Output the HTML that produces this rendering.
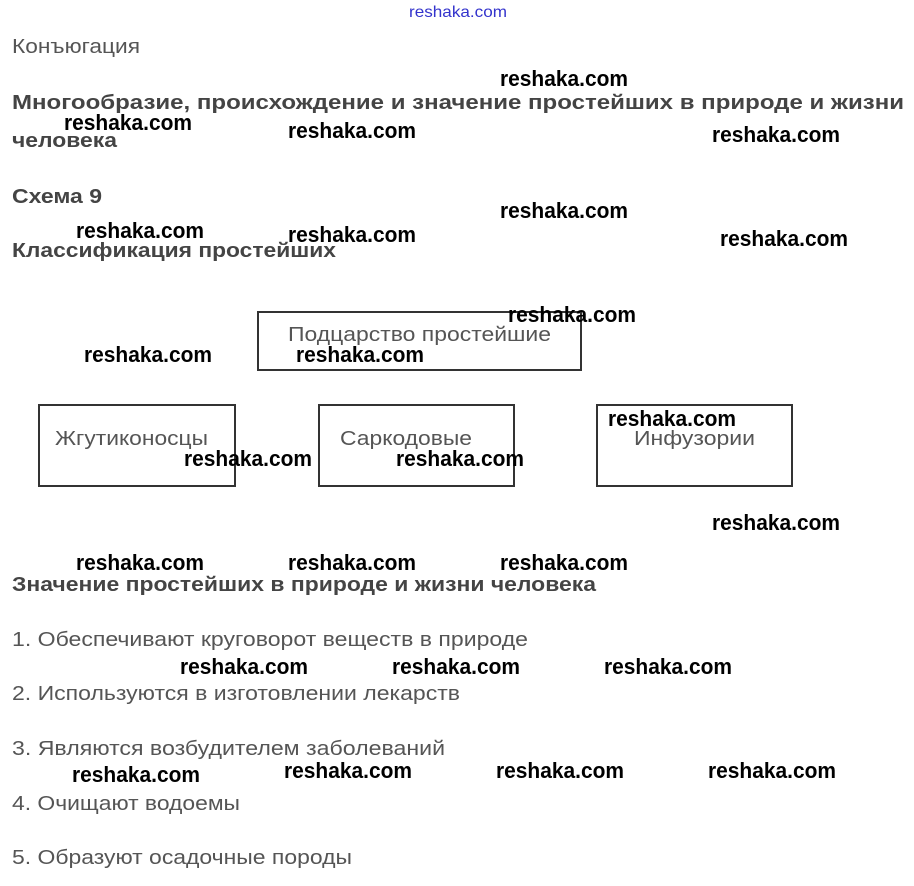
<!DOCTYPE html>
<html><head><meta charset="utf-8"><style>
html,body{margin:0;padding:0;background:#fff;width:914px;height:886px;overflow:hidden}
svg{display:block}
.t{font-family:"Liberation Sans",sans-serif;font-size:20px;fill:#555}
.h{font-family:"Liberation Sans",sans-serif;font-size:20px;font-weight:bold;fill:#444}
.w{font-family:"Liberation Sans",sans-serif;font-size:22px;font-weight:bold;fill:#000}
</style></head><body>
<svg width="914" height="886" viewBox="0 0 914 886" xmlns="http://www.w3.org/2000/svg">
<text x="409" y="17" font-family="Liberation Sans,sans-serif" font-size="16" fill="#3333cc" textLength="98" lengthAdjust="spacingAndGlyphs">reshaka.com</text>
<text class="t" x="12" y="53" textLength="128" lengthAdjust="spacingAndGlyphs">Конъюгация</text>
<text class="h" x="12" y="109" textLength="892" lengthAdjust="spacingAndGlyphs">Многообразие, происхождение и значение простейших в природе и жизни</text>
<text class="h" x="12" y="147" textLength="105" lengthAdjust="spacingAndGlyphs">человека</text>
<text class="h" x="12" y="203" textLength="90" lengthAdjust="spacingAndGlyphs">Схема 9</text>
<text class="h" x="12" y="257" textLength="324" lengthAdjust="spacingAndGlyphs">Классификация простейших</text>

<rect x="258" y="312" width="323" height="58" fill="none" stroke="#333" stroke-width="2"/>
<text class="t" x="288" y="341" textLength="263" lengthAdjust="spacingAndGlyphs">Подцарство простейшие</text>
<rect x="39" y="405" width="196" height="81" fill="none" stroke="#333" stroke-width="2"/>
<rect x="319" y="405" width="195" height="81" fill="none" stroke="#333" stroke-width="2"/>
<rect x="597" y="405" width="195" height="81" fill="none" stroke="#333" stroke-width="2"/>
<text class="t" x="55" y="445" textLength="153" lengthAdjust="spacingAndGlyphs">Жгутиконосцы</text>
<text class="t" x="340" y="445" textLength="132" lengthAdjust="spacingAndGlyphs">Саркодовые</text>
<text class="t" x="634" y="445" textLength="121" lengthAdjust="spacingAndGlyphs">Инфузории</text>

<text class="h" x="12" y="591" textLength="584" lengthAdjust="spacingAndGlyphs">Значение простейших в природе и жизни человека</text>
<text class="t" x="12" y="646" textLength="516" lengthAdjust="spacingAndGlyphs">1. Обеспечивают круговорот веществ в природе</text>
<text class="t" x="12" y="700" textLength="448" lengthAdjust="spacingAndGlyphs">2. Используются в изготовлении лекарств</text>
<text class="t" x="12" y="755" textLength="433" lengthAdjust="spacingAndGlyphs">3. Являются возбудителем заболеваний</text>
<text class="t" x="12" y="810" textLength="228" lengthAdjust="spacingAndGlyphs">4. Очищают водоемы</text>
<text class="t" x="12" y="864" textLength="340" lengthAdjust="spacingAndGlyphs">5. Образуют осадочные породы</text>

<g class="w">
<text class="w" x="500" y="86" textLength="128" lengthAdjust="spacingAndGlyphs">reshaka.com</text>
<text class="w" x="64" y="130" textLength="128" lengthAdjust="spacingAndGlyphs">reshaka.com</text>
<text class="w" x="288" y="138" textLength="128" lengthAdjust="spacingAndGlyphs">reshaka.com</text>
<text class="w" x="712" y="142" textLength="128" lengthAdjust="spacingAndGlyphs">reshaka.com</text>
<text class="w" x="500" y="218" textLength="128" lengthAdjust="spacingAndGlyphs">reshaka.com</text>
<text class="w" x="76" y="238" textLength="128" lengthAdjust="spacingAndGlyphs">reshaka.com</text>
<text class="w" x="288" y="242" textLength="128" lengthAdjust="spacingAndGlyphs">reshaka.com</text>
<text class="w" x="720" y="246" textLength="128" lengthAdjust="spacingAndGlyphs">reshaka.com</text>
<text class="w" x="508" y="322" textLength="128" lengthAdjust="spacingAndGlyphs">reshaka.com</text>
<text class="w" x="84" y="362" textLength="128" lengthAdjust="spacingAndGlyphs">reshaka.com</text>
<text class="w" x="296" y="362" textLength="128" lengthAdjust="spacingAndGlyphs">reshaka.com</text>
<text class="w" x="608" y="426" textLength="128" lengthAdjust="spacingAndGlyphs">reshaka.com</text>
<text class="w" x="184" y="466" textLength="128" lengthAdjust="spacingAndGlyphs">reshaka.com</text>
<text class="w" x="396" y="466" textLength="128" lengthAdjust="spacingAndGlyphs">reshaka.com</text>
<text class="w" x="712" y="530" textLength="128" lengthAdjust="spacingAndGlyphs">reshaka.com</text>
<text class="w" x="76" y="570" textLength="128" lengthAdjust="spacingAndGlyphs">reshaka.com</text>
<text class="w" x="288" y="570" textLength="128" lengthAdjust="spacingAndGlyphs">reshaka.com</text>
<text class="w" x="500" y="570" textLength="128" lengthAdjust="spacingAndGlyphs">reshaka.com</text>
<text class="w" x="180" y="674" textLength="128" lengthAdjust="spacingAndGlyphs">reshaka.com</text>
<text class="w" x="392" y="674" textLength="128" lengthAdjust="spacingAndGlyphs">reshaka.com</text>
<text class="w" x="604" y="674" textLength="128" lengthAdjust="spacingAndGlyphs">reshaka.com</text>
<text class="w" x="72" y="782" textLength="128" lengthAdjust="spacingAndGlyphs">reshaka.com</text>
<text class="w" x="284" y="778" textLength="128" lengthAdjust="spacingAndGlyphs">reshaka.com</text>
<text class="w" x="496" y="778" textLength="128" lengthAdjust="spacingAndGlyphs">reshaka.com</text>
<text class="w" x="708" y="778" textLength="128" lengthAdjust="spacingAndGlyphs">reshaka.com</text>
</g>
</svg>
</body></html>
